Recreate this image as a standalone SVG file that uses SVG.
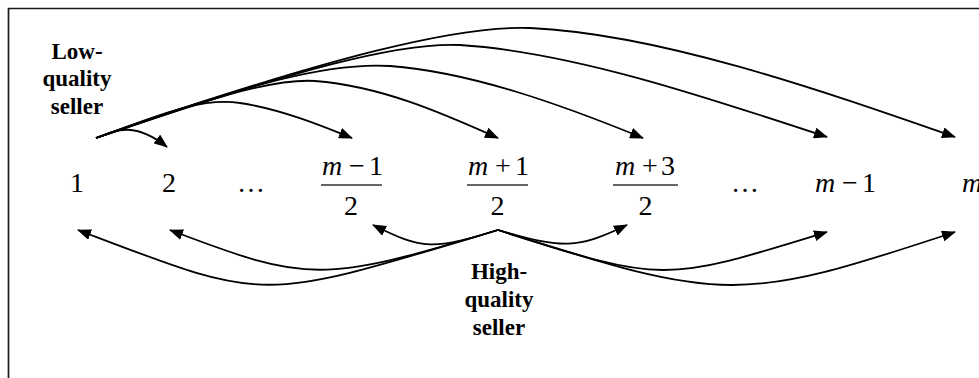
<svg xmlns="http://www.w3.org/2000/svg" width="979" height="378" viewBox="0 0 979 378">
<defs>
<marker id="ah" viewBox="0 0 14 11" refX="13" refY="5.5" markerWidth="14" markerHeight="11" markerUnits="userSpaceOnUse" orient="auto">
<path d="M0,0 L14,5.5 L0,11 z" fill="#000"/>
</marker>
<style>
.bar{stroke:#333;stroke-width:1.3}
.arr{fill:none;stroke:#000;stroke-width:1.8;marker-end:url(#ah)}
</style>
</defs>
<rect width="979" height="378" fill="#fff"/>
<path d="M8.5,379 V8.5 H980" fill="none" stroke="#1a1a1a" stroke-width="1.7"/>

<g id="low-seller" font-family="Liberation Serif" font-size="23" font-weight="bold" text-anchor="middle" fill="#000">
<text x="77" y="58.5">Low-</text>
<text x="77" y="86">quality</text>
<text x="77" y="113.5">seller</text>
</g>
<g id="high-seller" font-family="Liberation Serif" font-size="23" font-weight="bold" text-anchor="middle" fill="#000">
<text x="499" y="279">High-</text>
<text x="499" y="307">quality</text>
<text x="499" y="335">seller</text>
</g>

<g font-family="Liberation Serif" font-size="28" fill="#000">
<g id="n1"><text x="77" y="192" text-anchor="middle">1</text></g>
<g id="n2"><text x="169" y="192" text-anchor="middle">2</text></g>
<g id="dots1"><text x="251" y="192" text-anchor="middle">…</text></g>
<g id="n-m-1-half">
<text y="175"><tspan font-style="italic" x="322">m</tspan><tspan x="349">−</tspan><tspan x="369">1</tspan></text>
<line class="bar" x1="321" y1="185" x2="382" y2="185"/>
<text x="351" y="215" text-anchor="middle">2</text>
</g>
<g id="n-m+1-half">
<text y="175"><tspan font-style="italic" x="468">m</tspan><tspan x="495">+</tspan><tspan x="515">1</tspan></text>
<line class="bar" x1="467" y1="185" x2="528" y2="185"/>
<text x="497.5" y="215" text-anchor="middle">2</text>
</g>
<g id="n-m+3-half">
<text y="175"><tspan font-style="italic" x="615">m</tspan><tspan x="642">+</tspan><tspan x="661">3</tspan></text>
<line class="bar" x1="613" y1="185" x2="678" y2="185"/>
<text x="645.5" y="215" text-anchor="middle">2</text>
</g>
<g id="dots2"><text x="745" y="192" text-anchor="middle">…</text></g>
<g id="n-m-1">
<text y="192"><tspan font-style="italic" x="815">m</tspan><tspan x="842">−</tspan><tspan x="862">1</tspan></text>
</g>
<g id="n-m"><text font-style="italic" x="962" y="192">m</text></g>
</g>

<g id="connectors">
<path class="arr" d="M96,138 C116,130 134,121 167,147"/>
<path class="arr" d="M96,138 C160,115 200,97 240,103 C280,109 320,125 352,138"/>
<path class="arr" d="M96,138 C200,102 270,78 315,81 C380,86 440,112 498,138"/>
<path class="arr" d="M96,138 C250,83 330,62 390,66 C470,72 560,104 643,138"/>
<path class="arr" d="M96,138 C300,68 400,42 460,45 C570,52 700,95 827,137"/>
<path class="arr" d="M96,138 C330,56 460,25 530,28 C660,34 820,90 955,137"/>

<path class="arr" d="M498,230 C433,250 423,250 373,225"/>
<path class="arr" d="M498,230 C563,249 577,249 627,225"/>
<path class="arr" d="M498,230 C321,283 309,283 170,230"/>
<path class="arr" d="M498,230 C255,303 270,303 78,230"/>
<path class="arr" d="M498,230 C664,283 662,283 827,232"/>
<path class="arr" d="M498,230 C726,303 740,303 955,232"/>
</g>
</svg>
